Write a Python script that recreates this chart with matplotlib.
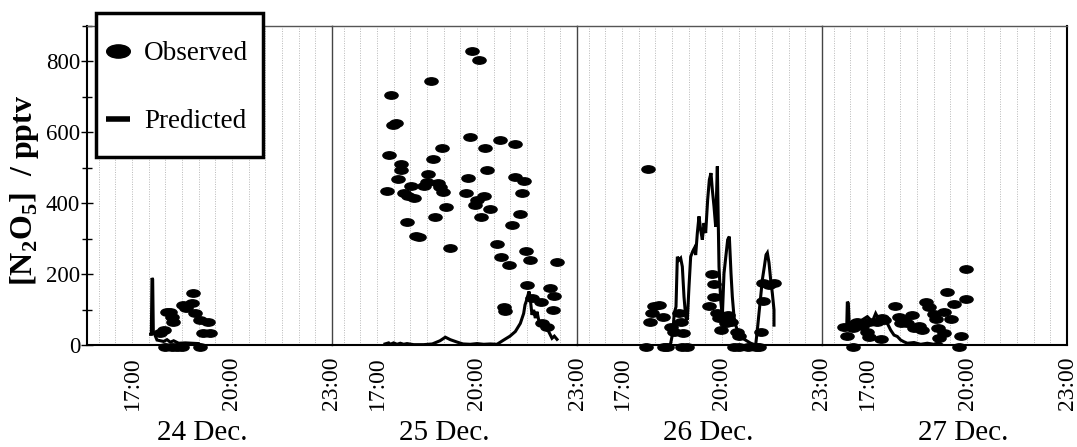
import matplotlib
matplotlib.use('Agg')
import matplotlib.pyplot as plt
import numpy as np
from matplotlib.path import Path
from matplotlib.lines import Line2D
from matplotlib.patches import Rectangle
from matplotlib.ticker import MultipleLocator

plt.rcParams['font.family'] = ['Liberation Serif', 'DejaVu Serif']
plt.rcParams['mathtext.fontset'] = 'custom'
plt.rcParams['mathtext.rm'] = 'Liberation Serif'
plt.rcParams['mathtext.bf'] = 'Liberation Serif:bold'

# ---------------- data ----------------
days = ['24 Dec.', '25 Dec.', '26 Dec.', '27 Dec.']
time_ticks = [17, 20, 23]
time_labels = ['17:00', '20:00', '23:00']
y_ticks = [0, 200, 400, 600, 800]

# 24 Dec.
obs24_hour = [17.84, 17.96, 18.06, 18.14, 18.20, 18.24, 18.53, 18.62, 18.80, 18.83,
              18.89, 19.04, 19.28, 19.13, 19.34, 17.99, 18.20, 18.35, 18.50, 19.04]
obs24_val = [34, 42, 93, 93, 80, 65, 113, 104, 118, 147,
             90, 70, 65, 34, 34, -5, -5, -5, -5, -5]
pred24_hour = [17.56, 17.58, 17.60, 17.62, 17.64, 17.68, 17.75, 17.85, 17.95, 18.05,
               18.15, 18.25, 18.40, 18.60, 18.80, 19.00, 19.05]
pred24_val = [30, 30, 189, 185, 35, 30, 14, 12, 10, 15, 8, 12, 5, 6, 5, 4, 0]

# 25 Dec.
obs25_hour = [19.86, 20.06, 18.62, 17.42, 17.56, 17.49, 19.78, 20.70, 21.15, 18.94,
              20.23, 17.37, 18.69, 17.71, 17.73, 20.31, 18.53, 17.62, 19.73, 21.15,
              21.40, 18.50, 18.03, 18.41, 18.82, 18.89, 17.29, 17.81, 18.99, 19.67,
              21.35, 17.92, 18.10, 20.22, 19.99, 19.95, 19.08, 20.39, 21.28, 17.89,
              18.75, 20.12, 21.06, 18.17, 18.27, 19.18, 20.60, 21.47, 20.73, 20.96,
              21.59, 22.40, 21.51, 22.18, 22.32, 21.65, 20.80, 20.85, 21.92, 22.28,
              21.95, 22.10]
obs25_val = [830, 805, 744, 704, 626, 621, 587, 577, 568, 556,
             556, 535, 525, 511, 494, 494, 483, 469, 471, 475,
             464, 461, 450, 450, 457, 445, 435, 430, 433, 430,
             428, 419, 414, 421, 410, 395, 389, 384, 369, 348,
             362, 362, 339, 308, 306, 275, 284, 266, 249, 226,
             240, 235, 169, 160, 139, 134, 108, 97, 120, 99,
             61, 52]
pred25_hour = [17.24, 17.35, 17.40, 17.50, 17.60, 17.70, 17.80, 17.90, 18.10, 18.40,
               18.66, 18.89, 19.05, 19.20, 19.41, 19.58, 19.80, 20.00, 20.20, 20.40,
               20.60, 20.80, 20.99, 21.15, 21.30, 21.40, 21.44, 21.49, 21.56, 21.59,
               21.65, 21.70, 21.75, 21.80, 21.85, 22.00, 22.15, 22.25, 22.32, 22.40]
pred25_val = [3, 6, 2, 6, 2, 5, 2, 4, 1, 1,
              3, 12, 22, 15, 8, 3, 2, 4, 2, 3,
              2, 14, 25, 38, 61, 89, 113, 127, 151, 137,
              85, 99, 76, 94, 71, 52, 38, 19, 25, 16]

# 26 Dec.
obs26_hour = [17.78, 17.96, 18.11, 17.91, 18.24, 17.84, 18.47, 18.57, 18.84, 18.72,
              18.77, 17.71, 18.26, 18.36, 18.81, 18.96, 19.69, 19.77, 19.75, 19.62,
              19.86, 19.91, 20.18, 20.11, 19.96, 20.26, 20.46, 20.51, 20.36, 20.51,
              20.77, 21.02, 21.12, 21.17, 21.22, 21.22, 21.56, 21.42]
obs26_val = [496, 111, 113, 89, 78, 66, 52, 38, 35, 89,
             66, -5, -5, -5, -5, -5, 200, 172, 135, 111,
             89, 75, 85, 61, 42, 66, 38, 24, -5, -5,
             -5, -5, -5, 38, 125, 176, 174, 169]
pred26_hour = [18.46, 18.52, 18.57, 18.62, 18.66, 18.71, 18.76, 18.81, 18.86, 18.91,
               18.96, 19.01, 19.06, 19.12, 19.17, 19.21, 19.26, 19.31, 19.36, 19.41,
               19.46, 19.51, 19.57, 19.62, 19.67, 19.71, 19.76, 19.81, 19.86, 19.91,
               19.96, 20.01, 20.06, 20.12, 20.17, 20.22, 20.27, 20.31, 20.36, 20.41,
               20.51, 20.67, 20.86, 21.01, 21.06, 21.11, 21.16, 21.21, 21.27, 21.32,
               21.36, 21.41, 21.46, 21.51, 21.56, 21.56]
pred26_val = [5, 33, 90, 108, 249, 240, 245, 221, 136, 80,
              71, 165, 249, 264, 273, 254, 316, 363, 325, 297,
              344, 316, 410, 466, 485, 438, 391, 334, 504, 221,
              127, 80, 202, 254, 297, 306, 202, 136, 80, 56,
              28, 16, 5, 0, 42, 90, 136, 184, 221, 254,
              260, 232, 184, 146, 99, 56]

# 27 Dec.
obs27_hour = [19.96, 19.96, 19.41, 19.62, 18.76, 18.86, 17.84, 19.32, 19.01, 18.36,
              19.07, 19.51, 17.96, 18.11, 18.21, 18.01, 18.57, 18.41, 18.66, 19.12,
              19.32, 19.17, 19.82, 17.46, 17.51, 17.31, 17.06, 16.71, 16.86, 16.31,
              16.57, 17.01, 16.41, 17.06, 17.41, 16.57, 19.77]
obs27_val = [215, 129, 149, 116, 122, 106, 111, 94, 88, 85,
             72, 72, 78, 71, 63, 63, 54, 47, 42, 47,
             35, 19, 24, 75, 71, 66, 66, 66, 54, 52,
             47, 38, 24, 22, 16, -5, -5]
pred27_hour = [16.31, 16.39, 16.41, 16.44, 16.47, 16.56, 16.71, 16.86, 17.01, 17.16,
               17.26, 17.36, 17.51, 17.61, 17.71, 17.81, 17.91, 18.01, 18.11, 18.21,
               18.41, 18.61, 18.81, 19.01, 19.16, 19.26]
pred27_val = [43, 43, 122, 118, 52, 66, 61, 71, 80, 66,
              89, 71, 66, 61, 42, 28, 24, 14, 9, 5,
              7, 2, 5, 2, 7, 0]

obs_hours = [obs24_hour, obs25_hour, obs26_hour, obs27_hour]
obs_vals = [obs24_val, obs25_val, obs26_val, obs27_val]
pred_hours = [pred24_hour, pred25_hour, pred26_hour, pred27_hour]
pred_vals = [pred24_val, pred25_val, pred26_val, pred27_val]

# ---------------- figure ----------------
W, H = 1077, 447
fig = plt.figure(figsize=(W / 100, H / 100), dpi=100)
fig.patch.set_facecolor('white')
gs = fig.add_gridspec(1, 4, left=87 / W, right=1067 / W,
                      bottom=1 - 345 / H, top=1 - 26 / H, wspace=0)

circ = Path.unit_circle()
ellipse = Path(circ.vertices * np.array([1.0, 0.56]), circ.codes)

axes = []
for i in range(4):
    ax = fig.add_subplot(gs[0, i])
    axes.append(ax)
    ax.set_xlim(15.65, 23.0)
    ax.set_ylim(0, 900)
    ax.set_xticks(time_ticks)
    ax.set_xticklabels(time_labels, rotation=90, fontsize=17)
    ax.set_xticks(np.arange(16, 23, 0.5), minor=True)
    ax.tick_params(axis='x', which='both', length=0, pad=8)
    ax.grid(axis='x', which='both', linestyle=(0, (1, 1.5)), color='#b8b8b8', lw=0.7)
    ax.set_axisbelow(True)

    ax.plot(pred_hours[i], pred_vals[i], color='black', lw=2.2, zorder=2,
            solid_joinstyle='miter')
    ax.plot(obs_hours[i], obs_vals[i], linestyle='none', marker=ellipse,
            markersize=9.5, color='black', zorder=3, clip_on=False)

    ax.spines['top'].set_color('#555555')
    ax.spines['top'].set_linewidth(1.0)
    ax.spines['bottom'].set_color('black')
    ax.spines['bottom'].set_linewidth(1.5)
    if i == 0:
        ax.spines['left'].set_color('black')
        ax.spines['left'].set_linewidth(1.5)
        ax.set_yticks(y_ticks)
        ax.yaxis.set_minor_locator(MultipleLocator(100))
        ax.tick_params(axis='y', which='major', direction='inout', length=8,
                       width=1, labelsize=16.5, pad=1)
        ax.tick_params(axis='y', which='minor', direction='inout', length=7, width=1)
    else:
        ax.spines['left'].set_color('#444444')
        ax.spines['left'].set_linewidth(1.0)
        ax.tick_params(axis='y', which='both', left=False, labelleft=False)
    if i == 3:
        ax.spines['right'].set_color('black')
        ax.spines['right'].set_linewidth(1.5)
    else:
        ax.spines['right'].set_visible(False)

# day labels
day_x = [202, 444, 708, 963]
for x, d in zip(day_x, days):
    fig.text(x / W, 1 - 433 / H, d, fontsize=21, ha='center', va='center')

# y label
fig.text(25 / W, 1 - 190 / H, r'[N$_\mathbf{2}$O$_\mathbf{5}$]  / pptv', rotation=90,
         fontsize=23, fontweight='bold', ha='center', va='center')

# legend: frame drawn as a separate box, entries as a figure legend on top
frame = Rectangle((96 / W, 1 - 157 / H), 167 / W, 144 / H, transform=fig.transFigure,
                  facecolor='white', edgecolor='black', lw=2.5, zorder=4)
fig.add_artist(frame)
h_obs = Line2D([], [], linestyle='none', marker=ellipse, markersize=17, color='black')
h_pred = Line2D([], [], color='black', lw=4, solid_capstyle='butt')
leg = fig.legend([h_obs, h_pred], ['Observed', 'Predicted'], loc='upper left',
                 bbox_to_anchor=(106 / W, 1 - 41 / H), bbox_transform=fig.transFigure,
                 frameon=False, fontsize=19.5, handlelength=0.9, handletextpad=0.5,
                 borderpad=0, labelspacing=1.6, borderaxespad=0)
leg.set_zorder(6)

fig.savefig('out.png', dpi=100)
